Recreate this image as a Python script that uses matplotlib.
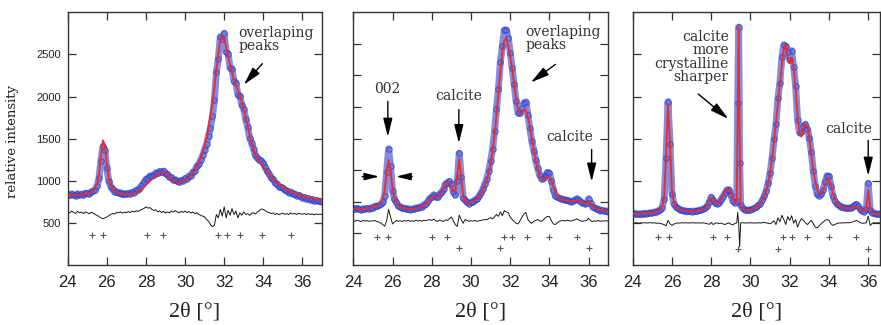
"""
Rietveld fits of three apatite samples: observed points, calculated profile,
difference curve and reflection markers (hydroxyapatite and calcite).
"""

import matplotlib

matplotlib.use("Agg")
import matplotlib.pyplot as plt
import numpy as np

STEP = 0.1  # degrees 2-theta between tabulated points
START = 24.0

# ---- sample A -------------------------------------------------------------
calc_a = [
    830, 828, 826, 826, 828, 830, 832, 835, 838, 842,
    848, 855, 865, 885, 915, 965, 1080, 1300, 1480, 1420,
    1200, 1030, 950, 905, 880, 865, 855, 848, 843, 840,
    838, 838, 840, 845, 852, 862, 875, 890, 908, 928,
    950, 972, 995, 1018, 1040, 1060, 1078, 1090, 1098, 1098,
    1088, 1068, 1045, 1022, 1003, 990, 984, 983, 987, 995,
    1007, 1022, 1042, 1066, 1095, 1130, 1170, 1218, 1275, 1340,
    1420, 1515, 1630, 1770, 1930, 2110, 2310, 2510, 2670, 2720,
    2680, 2590, 2480, 2370, 2280, 2200, 2140, 2080, 2010, 1930,
    1840, 1750, 1650, 1540, 1450, 1375, 1315, 1265, 1225, 1195,
    1165, 1135, 1105, 1075, 1048, 1020, 995, 972, 952, 935,
    920, 906, 893, 881, 870, 860, 851, 842, 834, 826,
    819, 812, 806, 800, 795, 790, 786, 782, 778, 775, 772,
]
diff_a = [
    632, 618, 640, 625, 612, 636, 620, 628, 610, 630,
    622, 608, 626, 615, 600, 590, 575, 560, 548, 560,
    570, 585, 600, 612, 605, 625, 618, 632, 615, 628,
    620, 635, 622, 640, 628, 645, 636, 650, 660, 672,
    690, 675, 682, 660, 648, 655, 630, 642, 622, 638,
    615, 630, 620, 640, 628, 645, 632, 618, 638, 625,
    640, 622, 635, 615, 630, 610, 622, 600, 590, 580,
    570, 540, 520, 480, 455, 470, 600, 560, 660, 580,
    690, 560, 650, 590, 670, 600, 640, 560, 620, 590,
    630, 600, 610, 590, 615, 620, 605, 630, 645, 665,
    660, 645, 630, 622, 610, 618, 600, 612, 598, 608,
    615, 602, 610, 598, 618, 605, 612, 600, 615, 608,
    602, 612, 598, 610, 600, 608, 596, 606, 600, 604, 598,
]
diff_base_a = 620
hap_a = [25.25, 25.8, 28.05, 28.85, 31.7, 32.15, 32.8, 33.95, 35.4]

# ---- sample B -------------------------------------------------------------
calc_b = [
    890, 888, 886, 885, 886, 888, 891, 895, 900, 906,
    914, 925, 940, 962, 995, 1050, 1180, 1480, 1660, 1500,
    1220, 1060, 985, 945, 922, 908, 898, 892, 888, 887,
    888, 892, 898, 906, 916, 928, 945, 965, 995, 1035,
    1070, 1085, 1075, 1080, 1110, 1155, 1210, 1265, 1300, 1290,
    1230, 1160, 1170, 1420, 1680, 1380, 1100, 1010, 985, 980,
    990, 1005, 1025, 1050, 1085, 1130, 1185, 1255, 1340, 1450,
    1600, 1800, 2060, 2370, 2720, 3080, 3380, 3560, 3580, 3470,
    3300, 3100, 2870, 2630, 2460, 2400, 2420, 2460, 2450, 2350,
    2190, 2000, 1820, 1650, 1510, 1420, 1370, 1355, 1370, 1395,
    1390, 1330, 1240, 1160, 1105, 1070, 1048, 1035, 1025, 1018,
    1013, 1010, 1010, 1015, 1022, 1015, 1000, 985, 972, 975,
    1010, 975, 930, 905, 890, 880, 872, 865, 860, 855, 850,
]
diff_b = [
    705, 692, 710, 698, 688, 706, 695, 702, 690, 700,
    696, 705, 688, 680, 665, 640, 615, 700, 880, 760,
    650, 680, 705, 692, 700, 688, 702, 695, 706, 690,
    700, 692, 708, 698, 705, 692, 710, 700, 712, 720,
    705, 728, 702, 690, 712, 700, 688, 715, 705, 735,
    760, 700, 640, 610, 790, 720, 660, 720, 705, 690,
    702, 695, 706, 690, 700, 705, 712, 720, 715, 735,
    750, 730, 760, 800, 770, 840, 780, 860, 840, 830,
    760, 720, 690, 660, 650, 700, 760, 810, 830, 720,
    680, 660, 690, 705, 720, 700, 690, 720, 750, 770,
    765, 700, 650, 640, 670, 690, 700, 705, 698, 710,
    702, 695, 708, 715, 730, 712, 698, 690, 700, 705,
    740, 700, 688, 700, 694, 705, 690, 700, 696, 702, 694,
]
diff_base_b = 700
hap_b = [25.22, 25.76, 27.99, 28.79, 31.67, 32.1, 32.87, 33.98, 35.41]
calcite_b = [29.41, 31.46, 36.0]

# ---- sample C -------------------------------------------------------------
calc_c = [
    1220, 1218, 1216, 1215, 1216, 1218, 1221, 1225, 1230, 1236,
    1244, 1254, 1268, 1290, 1325, 1390, 1600, 2600, 3820, 2900,
    1750, 1480, 1390, 1345, 1318, 1300, 1288, 1280, 1275, 1272,
    1272, 1275, 1280, 1288, 1298, 1312, 1330, 1360, 1420, 1520,
    1600, 1580, 1490, 1460, 1490, 1560, 1650, 1740, 1800, 1790,
    1700, 1570, 1490, 1520, 5650, 1420, 1340, 1315, 1305, 1305,
    1312, 1325, 1345, 1372, 1410, 1460, 1530, 1625, 1760, 1950,
    2200, 2530, 2930, 3380, 3850, 4300, 4750, 5150, 5230, 4900,
    4800, 4920, 4700, 4180, 3550, 3120, 3050, 3230, 3340, 3270,
    3000, 2620, 2260, 1980, 1800, 1720, 1700, 1760, 1900, 2040,
    2050, 1900, 1700, 1560, 1470, 1415, 1385, 1365, 1355, 1350,
    1350, 1352, 1360, 1375, 1380, 1360, 1320, 1290, 1275, 1330,
    1780, 1360, 1250, 1230, 1220, 1212, 1205,
]
diff_c = [
    1010, 995, 1005, 990, 1002, 996, 1008, 994, 1000, 1006,
    996, 1004, 990, 998, 985, 975, 960, 930, 1060, 980,
    940, 970, 990, 1000, 994, 1004, 998, 1006, 996, 1002,
    998, 1006, 994, 1002, 1000, 996, 1004, 990, 980, 965,
    1010, 960, 990, 1000, 985, 995, 975, 960, 985, 1000,
    970, 950, 985, 1000, 1000, 1000, 1005, 995, 1002, 998,
    1004, 996, 1002, 994, 1006, 998, 1004, 1010, 1000, 990,
    980, 1010, 1050, 960, 1120, 1030, 1180, 1080, 960, 1150,
    1060, 1170, 990, 1080, 900, 1020, 1100, 1060, 1000, 960,
    1010, 1060, 980, 900, 880, 930, 980, 1020, 1060, 1080,
    1060, 980, 940, 960, 985, 1000, 995, 1004, 998, 1006,
    1000, 1010, 1020, 1040, 1060, 1030, 1004, 990, 995, 1000,
    1160, 940, 990, 1004, 996, 1002, 998,
]
# the sharp calcite (104) line needs two extra points on its flanks
extra_theta_c = [29.35, 29.45]
extra_calc_c = [3600, 3000]
extra_diff_c = [1250, 430]
diff_base_c = 1000
hap_c = [25.3, 25.85, 28.07, 28.82, 31.67, 32.1, 32.86, 33.99, 35.37]
calcite_c = [29.38, 31.41, 35.97]

SERIF = "DejaVu Serif"
SANS = "Liberation Sans"
TEXT_GREY = "#333333"
OBS_BLUE = (0.2, 0.25, 0.78)


def grid_for(values):
    return np.round(START + STEP * np.arange(len(values)), 2)


def arrow(ax, tail, head, scale=14, lw=1.0):
    ax.annotate(
        "",
        xy=head,
        xytext=tail,
        arrowprops=dict(
            arrowstyle="-|>,head_length=0.8,head_width=0.2",
            mutation_scale=scale,
            color="black",
            lw=lw,
            shrinkA=0,
            shrinkB=0,
        ),
    )


def note(ax, x, y, text, **kw):
    ax.text(x, y, text, family=SERIF, fontsize=10, color=TEXT_GREY,
            linespacing=0.95, **kw)


def draw_panel(ax, theta, calc, diff, base, hap, hap_y, calcite=None, calcite_y=None):
    theta = np.asarray(theta, dtype=float)
    calc = np.asarray(calc, dtype=float)
    diff = np.asarray(diff, dtype=float)
    obs = calc + diff - base

    # observed points: a soft band joining the points plus the circles themselves
    ax.plot(theta, obs, "-", color=OBS_BLUE, alpha=0.6, lw=5,
            solid_capstyle="round", solid_joinstyle="round", zorder=2)
    ax.plot(theta, obs, "o", ms=4, mfc=(0.35, 0.42, 0.92, 0.45),
            mec=(0.15, 0.2, 0.72, 0.75), mew=0.6, zorder=2)
    ax.plot(theta, calc, color="#ee2a2a", lw=1.3, zorder=3)
    ax.plot(theta, diff, color="#1a1a1a", lw=0.7, zorder=2)
    ax.plot(hap, [hap_y] * len(hap), "+", color="#555555", ms=4.5, mew=0.8)
    if calcite is not None:
        ax.plot(calcite, [calcite_y] * len(calcite), "+", color="#555555",
                ms=4.5, mew=0.8)

    ax.tick_params(direction="in", top=True, right=True, length=6,
                   width=0.9, color="#333333")
    ax.tick_params(axis="x", labelsize=12, pad=7, labelcolor="#222222")
    ax.tick_params(axis="y", labelsize=8, pad=5, labelcolor="#222222")
    for label in ax.get_xticklabels() + ax.get_yticklabels():
        label.set_family(SANS)
    for spine in ax.spines.values():
        spine.set_color("#333333")
        spine.set_linewidth(1.0)

    ax.set_xticks(np.arange(24, 37, 2))
    ax.set_xlabel("2θ [°]", family="Liberation Serif", fontsize=16,
                  color="#222222")
    ax.xaxis.set_label_coords(0.5, -0.15)


fig = plt.figure(figsize=(8.81, 3.25), dpi=100)
W, H = 881.0, 325.0


def axes_px(left, right, top=12.3, bottom=265.0):
    return fig.add_axes([left / W, 1 - bottom / H, (right - left) / W, (bottom - top) / H])


# sample A
ax1 = axes_px(67.7, 322.0)
theta_a = grid_for(calc_a)
draw_panel(ax1, theta_a, calc_a, diff_a, diff_base_a, hap_a, 355)
ax1.set_xlim(24, 37)
ax1.set_ylim(0, 3000)
ax1.set_yticks([500, 1000, 1500, 2000, 2500])
ax1.set_ylabel("relative intensity", family=SERIF, fontsize=9.5, color="#222222")
ax1.yaxis.set_label_coords(-0.19, 0.49)
note(ax1, 32.72, 2840, "overlaping\npeaks", va="top", ha="left")
arrow(ax1, (33.95, 2390), (33.0, 2140))

# sample B
ax2 = axes_px(353.3, 608.3)
theta_b = grid_for(calc_b)
draw_panel(ax2, theta_b, calc_b, diff_b, diff_base_b, hap_b, 444, calcite_b, 270)
ax2.set_xlim(24, 37)
ax2.set_ylim(0, 4000)
ax2.set_yticks(np.arange(500, 4000, 500))
ax2.set_yticklabels([])
note(ax2, 32.78, 3800, "overlaping\npeaks", va="top", ha="left")
arrow(ax2, (34.3, 3175), (33.05, 2890))
note(ax2, 25.72, 2780, "002", va="center", ha="center")
arrow(ax2, (25.76, 2590), (25.76, 2030))
arrow(ax2, (24.45, 1400), (25.32, 1400), scale=11)
arrow(ax2, (27.0, 1400), (26.18, 1400), scale=11)
note(ax2, 29.36, 2680, "calcite", va="center", ha="center")
arrow(ax2, (29.38, 2460), (29.38, 1930))
note(ax2, 35.05, 2020, "calcite", va="center", ha="center")
arrow(ax2, (36.15, 1830), (36.15, 1320))

# sample C: the sharper calcite lines
ax3 = axes_px(632.7, 880.0)
theta_c = np.concatenate([grid_for(calc_c), extra_theta_c])
order = np.argsort(theta_c)
draw_panel(
    ax3,
    theta_c[order],
    np.concatenate([calc_c, extra_calc_c])[order],
    np.concatenate([diff_c, extra_diff_c])[order],
    diff_base_c,
    hap_c,
    655,
    calcite_c,
    371,
)
ax3.set_xlim(24, 36.6)
ax3.set_ylim(0, 6000)
ax3.set_yticks(np.arange(1000, 6000, 1000))
ax3.set_yticklabels([])
note(ax3, 28.9, 5580, "calcite\nmore\ncrystalline\nsharper", va="top", ha="right")
arrow(ax3, (27.34, 4060), (28.87, 3470))
note(ax3, 35.03, 3230, "calcite", va="center", ha="center")
arrow(ax3, (36.0, 2960), (36.0, 2120))

fig.savefig("out.png", dpi=100)
